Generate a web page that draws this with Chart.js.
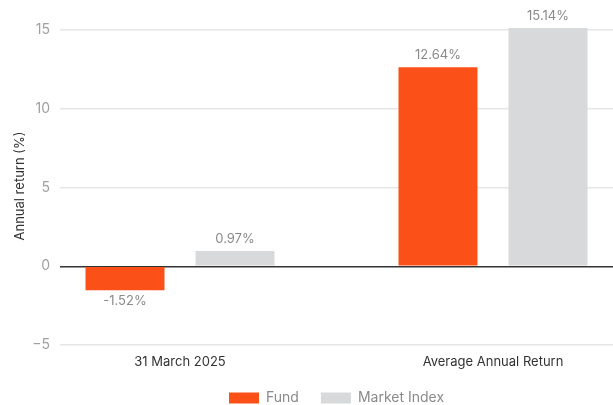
<!DOCTYPE html>
<html>
<head>
<meta charset="utf-8">
<script src="https://cdn.jsdelivr.net/npm/chart.js@4/dist/chart.umd.min.js"></script>
<style>
  html, body { margin: 0; padding: 0; background: #fff; }
  #wrap { width: 613px; height: 405px; position: relative; }
</style>
</head>
<body>
<div id="wrap"><canvas id="chart"></canvas></div>
<script>
// ── DATOS ─────────────────────────────────────────────
const categories  = ['31 March 2025', 'Average Annual Return'];
const fundValues  = [-1.52, 12.64];
const indexValues = [0.97, 15.14];
const yTicks      = [-5, 0, 5, 10, 15];
const seriesNames = ['Fund', 'Market Index'];

const FUND_COLOR  = '#fb5018';
const INDEX_COLOR = '#d8d9db';
const FONT = 'Inter, "Noto Sans", sans-serif';

// etiquetas de valor sobre / bajo cada barra
const valueLabels = {
  id: 'valueLabels',
  afterDatasetsDraw(chart) {
    const ctx = chart.ctx;
    ctx.save();
    ctx.font = `13px ${FONT}`;
    ctx.fillStyle = '#8a8a8a';
    ctx.textAlign = 'center';
    ctx.textBaseline = 'middle';
    chart.data.datasets.forEach((ds, i) => {
      chart.getDatasetMeta(i).data.forEach((bar, j) => {
        const v = ds.data[j].y;
        const y = v >= 0 ? bar.y - 12 : bar.y + 11;
        ctx.fillText(v.toFixed(2) + '%', bar.x, y);
      });
    });
    ctx.restore();
  }
};

const toPoints = vals => vals.map((v, i) => ({ x: i, y: v }));

new Chart(document.getElementById('chart'), {
  type: 'bar',
  data: {
    datasets: [
      { label: seriesNames[0], data: toPoints(fundValues),  backgroundColor: FUND_COLOR },
      { label: seriesNames[1], data: toPoints(indexValues), backgroundColor: INDEX_COLOR },
    ]
  },
  options: {
    responsive: true,
    maintainAspectRatio: false,
    animation: false,
    barPercentage: 0.718,
    categoryPercentage: 0.703,
    layout: { padding: { top: 27, right: 0, left: 0, bottom: -10 } },
    plugins: {
      tooltip: { enabled: false },
      legend: {
        position: 'bottom',
        fullSize: false,
        labels: {
          color: '#8a8a8a',
          font: { family: FONT, size: 14, lineHeight: 1 },
          boxWidth: 30, boxHeight: 11,
          padding: 22
        }
      }
    },
    scales: {
      x: {
        type: 'linear',
        offset: false,
        min: -0.3834, max: 1.3834,
        afterBuildTicks: ax => { ax.ticks = categories.map((_, i) => ({ value: i })); },
        afterFit: ax => { ax.height = 24; },
        ticks: {
          color: '#333',
          font: { family: FONT, size: 13 },
          padding: 9,
          autoSkip: false,
          maxRotation: 0,
          callback: v => categories[v] ?? ''
        },
        grid: { display: false, drawTicks: false },
        border: { display: false }
      },
      y: {
        min: -5, max: 15.2,
        afterBuildTicks: ax => { ax.ticks = yTicks.map(v => ({ value: v })); },
        afterFit: ax => { ax.width = 60; },
        ticks: {
          color: '#a0a0a0',
          font: { family: FONT, size: 14 },
          padding: 10,
          callback: v => v < 0 ? '\u2212' + Math.abs(v) : String(v)
        },
        grid: {
          drawTicks: false,
          color: ctx => ctx.tick && ctx.tick.value === 0 ? '#333' : '#e6e6e6',
          lineWidth: 1.5
        },
        border: { display: false },
        title: {
          display: true,
          text: 'Annual return (%)',
          color: '#333',
          font: { family: FONT, size: 13 },
          padding: { top: 12, bottom: 0 }
        }
      }
    }
  },
  plugins: [valueLabels]
});
</script>
</body>
</html>
